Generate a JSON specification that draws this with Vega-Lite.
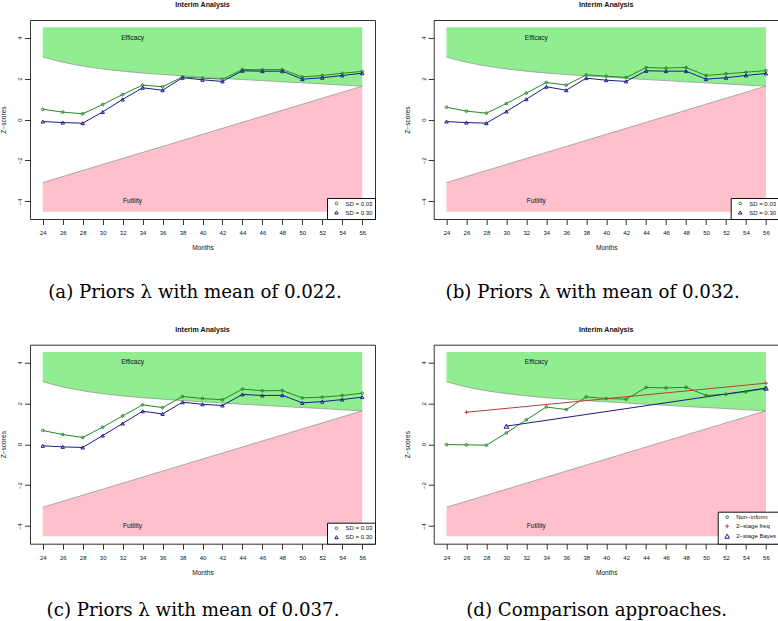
{
  "$schema": "https://vega.github.io/schema/vega-lite/v6.json",
  "padding": {"left": 0, "top": 0, "right": 0, "bottom": 0},
  "background": "white",
  "spacing": 23.7,
  "resolve": {"scale": {"color": "independent", "shape": "independent", "size": "independent"}, "legend": {"color": "independent", "shape": "independent", "size": "independent"}},
  "config": {
    "font": "Liberation Sans",
    "view": {"stroke": "#333", "strokeWidth": 1},
    "title": {"fontSize": 7.1, "fontWeight": "bold", "offset": 12, "color": "#111", "font": "Liberation Sans"},
    "axis": {"grid": false, "domain": false, "tickColor": "#333", "tickSize": 5.5, "labelFontSize": 6, "labelColor": "#111", "titleFontSize": 6.6, "titleFontWeight": "normal", "titleColor": "#111", "labelOverlap": false, "labelFlush": false, "labelFont": "Liberation Sans", "titleFont": "Liberation Sans"},
    "axisX": {"labelPadding": 5, "titlePadding": 9},
    "axisY": {"labelAngle": -90, "labelPadding": 2, "titlePadding": 10},
    "legend": {"labelFont": "Liberation Sans"}
  },
  "datasets": {
    "eff": [{"month":24,"z":3.05},{"month":26,"z":2.80},{"month":28,"z":2.61},{"month":30,"z":2.47},{"month":32,"z":2.36},{"month":34,"z":2.27},{"month":36,"z":2.20},{"month":38,"z":2.13},{"month":40,"z":2.07},{"month":42,"z":2.01},{"month":44,"z":1.95},{"month":46,"z":1.90},{"month":48,"z":1.84},{"month":50,"z":1.79},{"month":52,"z":1.74},{"month":54,"z":1.68},{"month":56,"z":1.63}],
    "fut": [{"month":24,"z":-3.08},{"month":56,"z":1.63}],
    "labels": [{"month":33,"z":4.0,"label":"Efficacy"},{"month":33,"z":-4.0,"label":"Futility"}],
    "a": [
      {"month":24,"z":0.50,"series":"SD = 0.03"},{"month":26,"z":0.36,"series":"SD = 0.03"},{"month":28,"z":0.28,"series":"SD = 0.03"},{"month":30,"z":0.73,"series":"SD = 0.03"},{"month":32,"z":1.22,"series":"SD = 0.03"},{"month":34,"z":1.68,"series":"SD = 0.03"},{"month":36,"z":1.60,"series":"SD = 0.03"},{"month":38,"z":2.08,"series":"SD = 0.03"},{"month":40,"z":2.02,"series":"SD = 0.03"},{"month":42,"z":1.97,"series":"SD = 0.03"},{"month":44,"z":2.44,"series":"SD = 0.03"},{"month":46,"z":2.43,"series":"SD = 0.03"},{"month":48,"z":2.44,"series":"SD = 0.03"},{"month":50,"z":2.08,"series":"SD = 0.03"},{"month":52,"z":2.15,"series":"SD = 0.03"},{"month":54,"z":2.26,"series":"SD = 0.03"},{"month":56,"z":2.35,"series":"SD = 0.03"},
      {"month":24,"z":-0.10,"series":"SD = 0.30"},{"month":26,"z":-0.15,"series":"SD = 0.30"},{"month":28,"z":-0.18,"series":"SD = 0.30"},{"month":30,"z":0.37,"series":"SD = 0.30"},{"month":32,"z":0.98,"series":"SD = 0.30"},{"month":34,"z":1.55,"series":"SD = 0.30"},{"month":36,"z":1.43,"series":"SD = 0.30"},{"month":38,"z":2.04,"series":"SD = 0.30"},{"month":40,"z":1.94,"series":"SD = 0.30"},{"month":42,"z":1.86,"series":"SD = 0.30"},{"month":44,"z":2.38,"series":"SD = 0.30"},{"month":46,"z":2.36,"series":"SD = 0.30"},{"month":48,"z":2.36,"series":"SD = 0.30"},{"month":50,"z":1.97,"series":"SD = 0.30"},{"month":52,"z":2.04,"series":"SD = 0.30"},{"month":54,"z":2.15,"series":"SD = 0.30"},{"month":56,"z":2.26,"series":"SD = 0.30"}
    ],
    "b": [
      {"month":24,"z":0.60,"series":"SD = 0.03"},{"month":26,"z":0.41,"series":"SD = 0.03"},{"month":28,"z":0.31,"series":"SD = 0.03"},{"month":30,"z":0.78,"series":"SD = 0.03"},{"month":32,"z":1.29,"series":"SD = 0.03"},{"month":34,"z":1.81,"series":"SD = 0.03"},{"month":36,"z":1.68,"series":"SD = 0.03"},{"month":38,"z":2.18,"series":"SD = 0.03"},{"month":40,"z":2.12,"series":"SD = 0.03"},{"month":42,"z":2.05,"series":"SD = 0.03"},{"month":44,"z":2.54,"series":"SD = 0.03"},{"month":46,"z":2.51,"series":"SD = 0.03"},{"month":48,"z":2.54,"series":"SD = 0.03"},{"month":50,"z":2.15,"series":"SD = 0.03"},{"month":52,"z":2.23,"series":"SD = 0.03"},{"month":54,"z":2.31,"series":"SD = 0.03"},{"month":56,"z":2.39,"series":"SD = 0.03"},
      {"month":24,"z":-0.10,"series":"SD = 0.30"},{"month":26,"z":-0.15,"series":"SD = 0.30"},{"month":28,"z":-0.18,"series":"SD = 0.30"},{"month":30,"z":0.39,"series":"SD = 0.30"},{"month":32,"z":0.99,"series":"SD = 0.30"},{"month":34,"z":1.60,"series":"SD = 0.30"},{"month":36,"z":1.43,"series":"SD = 0.30"},{"month":38,"z":2.02,"series":"SD = 0.30"},{"month":40,"z":1.92,"series":"SD = 0.30"},{"month":42,"z":1.86,"series":"SD = 0.30"},{"month":44,"z":2.38,"series":"SD = 0.30"},{"month":46,"z":2.36,"series":"SD = 0.30"},{"month":48,"z":2.36,"series":"SD = 0.30"},{"month":50,"z":1.97,"series":"SD = 0.30"},{"month":52,"z":2.04,"series":"SD = 0.30"},{"month":54,"z":2.15,"series":"SD = 0.30"},{"month":56,"z":2.25,"series":"SD = 0.30"}
    ],
    "c": [
      {"month":24,"z":0.67,"series":"SD = 0.03"},{"month":26,"z":0.47,"series":"SD = 0.03"},{"month":28,"z":0.33,"series":"SD = 0.03"},{"month":30,"z":0.83,"series":"SD = 0.03"},{"month":32,"z":1.38,"series":"SD = 0.03"},{"month":34,"z":1.92,"series":"SD = 0.03"},{"month":36,"z":1.79,"series":"SD = 0.03"},{"month":38,"z":2.33,"series":"SD = 0.03"},{"month":40,"z":2.23,"series":"SD = 0.03"},{"month":42,"z":2.17,"series":"SD = 0.03"},{"month":44,"z":2.69,"series":"SD = 0.03"},{"month":46,"z":2.61,"series":"SD = 0.03"},{"month":48,"z":2.62,"series":"SD = 0.03"},{"month":50,"z":2.26,"series":"SD = 0.03"},{"month":52,"z":2.30,"series":"SD = 0.03"},{"month":54,"z":2.38,"series":"SD = 0.03"},{"month":56,"z":2.49,"series":"SD = 0.03"},
      {"month":24,"z":-0.08,"series":"SD = 0.30"},{"month":26,"z":-0.13,"series":"SD = 0.30"},{"month":28,"z":-0.16,"series":"SD = 0.30"},{"month":30,"z":0.42,"series":"SD = 0.30"},{"month":32,"z":1.01,"series":"SD = 0.30"},{"month":34,"z":1.61,"series":"SD = 0.30"},{"month":36,"z":1.48,"series":"SD = 0.30"},{"month":38,"z":2.05,"series":"SD = 0.30"},{"month":40,"z":1.95,"series":"SD = 0.30"},{"month":42,"z":1.89,"series":"SD = 0.30"},{"month":44,"z":2.43,"series":"SD = 0.30"},{"month":46,"z":2.38,"series":"SD = 0.30"},{"month":48,"z":2.39,"series":"SD = 0.30"},{"month":50,"z":2.02,"series":"SD = 0.30"},{"month":52,"z":2.08,"series":"SD = 0.30"},{"month":54,"z":2.18,"series":"SD = 0.30"},{"month":56,"z":2.30,"series":"SD = 0.30"}
    ],
    "d": [
      {"month":24,"z":-0.02,"series":"Non−inform"},{"month":26,"z":-0.03,"series":"Non−inform"},{"month":28,"z":-0.05,"series":"Non−inform"},{"month":30,"z":0.55,"series":"Non−inform"},{"month":32,"z":1.19,"series":"Non−inform"},{"month":34,"z":1.82,"series":"Non−inform"},{"month":36,"z":1.69,"series":"Non−inform"},{"month":38,"z":2.31,"series":"Non−inform"},{"month":40,"z":2.23,"series":"Non−inform"},{"month":42,"z":2.20,"series":"Non−inform"},{"month":44,"z":2.77,"series":"Non−inform"},{"month":46,"z":2.75,"series":"Non−inform"},{"month":48,"z":2.78,"series":"Non−inform"},{"month":50,"z":2.38,"series":"Non−inform"},{"month":52,"z":2.44,"series":"Non−inform"},{"month":54,"z":2.56,"series":"Non−inform"},{"month":56,"z":2.72,"series":"Non−inform"},
      {"month":26,"z":1.56,"series":"2−stage freq"},{"month":56,"z":2.98,"series":"2−stage freq"},
      {"month":30,"z":0.88,"series":"2−stage Bayes"},{"month":56,"z":2.74,"series":"2−stage Bayes"}
    ]
  },
  "vconcat": [
    {
      "spacing": 27.7,
      "resolve": {"scale": {"color": "independent", "shape": "independent", "size": "independent"}, "legend": {"color": "independent", "shape": "independent", "size": "independent"}},
      "hconcat": [
        {
          "title": {"text": "(a) Priors λ with mean of 0.022.", "orient": "bottom", "anchor": "middle", "font": "DejaVu Serif", "fontSize": 18.2, "fontWeight": "normal", "color": "black", "offset": 32, "dx": 7},
          "resolve": {"scale": {"color": "independent", "shape": "independent", "size": "independent"}, "legend": {"color": "independent", "shape": "independent", "size": "independent"}},
          "vconcat": [
            {
              "title": "Interim Analysis",
              "width": 345, "height": 199,
              "view": {"stroke": "#333", "strokeWidth": 1},
              "encoding": {
                "x": {"field": "month", "type": "quantitative", "scale": {"domain": [22.72, 57.28], "nice": false, "zero": false}, "axis": {"values": [24,26,28,30,32,34,36,38,40,42,44,46,48,50,52,54,56], "title": "Months"}},
                "y": {"field": "z", "type": "quantitative", "scale": {"domain": [-4.86, 4.86], "nice": false, "zero": false}, "axis": {"values": [-4,-2,0,2,4], "title": "Z−scores"}}
              },
              "layer": [
                {"data": {"name": "eff"}, "mark": {"type": "area", "color": "#90EE90", "interpolate": "monotone"}, "encoding": {"y2": {"datum": 4.5}}},
                {"data": {"name": "fut"}, "mark": {"type": "area", "color": "#FFC0CB"}, "encoding": {"y2": {"datum": -4.5}}},
                {"data": {"name": "eff"}, "mark": {"type": "line", "color": "#8c8c8c", "strokeWidth": 0.7, "interpolate": "monotone"}, "encoding": {}},
                {"data": {"name": "fut"}, "mark": {"type": "line", "color": "#8c8c8c", "strokeWidth": 0.7}, "encoding": {}},
                {"data": {"name": "labels"}, "mark": {"type": "text", "fontSize": 6.6, "color": "#111"}, "encoding": {"text": {"field": "label"}}},
                {"data": {"name": "a"}, "mark": {"type": "line", "strokeWidth": 1}, "encoding": {"color": {"field": "series", "type": "nominal", "scale": {"domain": ["SD = 0.03", "SD = 0.30"], "range": ["#228B22", "#1C1C8A"]}, "legend": {"title": null, "orient": "bottom-right", "offset": 0, "padding": 2.5, "strokeColor": "#111", "fillColor": "white", "labelFontSize": 6, "labelColor": "#111", "symbolSize": 20, "symbolStrokeWidth": 1, "rowPadding": 1, "symbolOffset": 4, "labelOffset": 6, "cornerRadius": 0}}}},
                {"data": {"name": "a"}, "mark": {"type": "point", "filled": false, "strokeWidth": 1, "opacity": 1},
                 "encoding": {
                   "color": {"field": "series", "type": "nominal", "scale": {"domain": ["SD = 0.03", "SD = 0.30"], "range": ["#228B22", "#1C1C8A"]}, "legend": {"title": null, "orient": "bottom-right", "offset": 0, "padding": 2.5, "strokeColor": "#111", "fillColor": "white", "labelFontSize": 6, "labelColor": "#111", "symbolSize": 20, "symbolStrokeWidth": 1, "rowPadding": 1, "symbolOffset": 4, "labelOffset": 6, "cornerRadius": 0}},
                   "shape": {"field": "series", "type": "nominal", "scale": {"domain": ["SD = 0.03", "SD = 0.30"], "range": ["circle", "triangle-up"]}, "legend": {"title": null, "orient": "bottom-right", "offset": 0, "padding": 2.5, "strokeColor": "#111", "fillColor": "white", "labelFontSize": 6, "labelColor": "#111", "symbolSize": 20, "symbolStrokeWidth": 1, "rowPadding": 1, "symbolOffset": 4, "labelOffset": 6, "cornerRadius": 0}},
                   "size": {"field": "series", "type": "nominal", "scale": {"domain": ["SD = 0.03", "SD = 0.30"], "range": [7, 12]}, "legend": null}
                 }
                }
              ]
            }
          ]
        },
        {
          "title": {"text": "(b) Priors λ with mean of 0.032.", "orient": "bottom", "anchor": "middle", "font": "DejaVu Serif", "fontSize": 18.2, "fontWeight": "normal", "color": "black", "offset": 32, "dx": 1},
          "resolve": {"scale": {"color": "independent", "shape": "independent", "size": "independent"}, "legend": {"color": "independent", "shape": "independent", "size": "independent"}},
          "vconcat": [
            {
              "title": "Interim Analysis",
              "width": 345, "height": 199,
              "view": {"stroke": "#333", "strokeWidth": 1},
              "encoding": {
                "x": {"field": "month", "type": "quantitative", "scale": {"domain": [22.72, 57.28], "nice": false, "zero": false}, "axis": {"values": [24,26,28,30,32,34,36,38,40,42,44,46,48,50,52,54,56], "title": "Months"}},
                "y": {"field": "z", "type": "quantitative", "scale": {"domain": [-4.86, 4.86], "nice": false, "zero": false}, "axis": {"values": [-4,-2,0,2,4], "title": "Z−scores"}}
              },
              "layer": [
                {"data": {"name": "eff"}, "mark": {"type": "area", "color": "#90EE90", "interpolate": "monotone"}, "encoding": {"y2": {"datum": 4.5}}},
                {"data": {"name": "fut"}, "mark": {"type": "area", "color": "#FFC0CB"}, "encoding": {"y2": {"datum": -4.5}}},
                {"data": {"name": "eff"}, "mark": {"type": "line", "color": "#8c8c8c", "strokeWidth": 0.7, "interpolate": "monotone"}, "encoding": {}},
                {"data": {"name": "fut"}, "mark": {"type": "line", "color": "#8c8c8c", "strokeWidth": 0.7}, "encoding": {}},
                {"data": {"name": "labels"}, "mark": {"type": "text", "fontSize": 6.6, "color": "#111"}, "encoding": {"text": {"field": "label"}}},
                {"data": {"name": "b"}, "mark": {"type": "line", "strokeWidth": 1}, "encoding": {"color": {"field": "series", "type": "nominal", "scale": {"domain": ["SD = 0.03", "SD = 0.30"], "range": ["#228B22", "#1C1C8A"]}, "legend": {"title": null, "orient": "bottom-right", "offset": 0, "padding": 2.5, "strokeColor": "#111", "fillColor": "white", "labelFontSize": 6, "labelColor": "#111", "symbolSize": 20, "symbolStrokeWidth": 1, "rowPadding": 1, "symbolOffset": 4, "labelOffset": 6, "cornerRadius": 0}}}},
                {"data": {"name": "b"}, "mark": {"type": "point", "filled": false, "strokeWidth": 1, "opacity": 1},
                 "encoding": {
                   "color": {"field": "series", "type": "nominal", "scale": {"domain": ["SD = 0.03", "SD = 0.30"], "range": ["#228B22", "#1C1C8A"]}, "legend": {"title": null, "orient": "bottom-right", "offset": 0, "padding": 2.5, "strokeColor": "#111", "fillColor": "white", "labelFontSize": 6, "labelColor": "#111", "symbolSize": 20, "symbolStrokeWidth": 1, "rowPadding": 1, "symbolOffset": 4, "labelOffset": 6, "cornerRadius": 0}},
                   "shape": {"field": "series", "type": "nominal", "scale": {"domain": ["SD = 0.03", "SD = 0.30"], "range": ["circle", "triangle-up"]}, "legend": {"title": null, "orient": "bottom-right", "offset": 0, "padding": 2.5, "strokeColor": "#111", "fillColor": "white", "labelFontSize": 6, "labelColor": "#111", "symbolSize": 20, "symbolStrokeWidth": 1, "rowPadding": 1, "symbolOffset": 4, "labelOffset": 6, "cornerRadius": 0}},
                   "size": {"field": "series", "type": "nominal", "scale": {"domain": ["SD = 0.03", "SD = 0.30"], "range": [7, 12]}, "legend": null}
                 }
                }
              ]
            }
          ]
        }
      ]
    },
    {
      "spacing": 27.7,
      "resolve": {"scale": {"color": "independent", "shape": "independent", "size": "independent"}, "legend": {"color": "independent", "shape": "independent", "size": "independent"}},
      "hconcat": [
        {
          "title": {"text": "(c) Priors λ with mean of 0.037.", "orient": "bottom", "anchor": "middle", "font": "DejaVu Serif", "fontSize": 18.2, "fontWeight": "normal", "color": "black", "offset": 26, "dx": 5},
          "resolve": {"scale": {"color": "independent", "shape": "independent", "size": "independent"}, "legend": {"color": "independent", "shape": "independent", "size": "independent"}},
          "vconcat": [
            {
              "title": "Interim Analysis",
              "width": 345, "height": 199,
              "view": {"stroke": "#333", "strokeWidth": 1},
              "encoding": {
                "x": {"field": "month", "type": "quantitative", "scale": {"domain": [22.72, 57.28], "nice": false, "zero": false}, "axis": {"values": [24,26,28,30,32,34,36,38,40,42,44,46,48,50,52,54,56], "title": "Months"}},
                "y": {"field": "z", "type": "quantitative", "scale": {"domain": [-4.86, 4.86], "nice": false, "zero": false}, "axis": {"values": [-4,-2,0,2,4], "title": "Z−scores"}}
              },
              "layer": [
                {"data": {"name": "eff"}, "mark": {"type": "area", "color": "#90EE90", "interpolate": "monotone"}, "encoding": {"y2": {"datum": 4.5}}},
                {"data": {"name": "fut"}, "mark": {"type": "area", "color": "#FFC0CB"}, "encoding": {"y2": {"datum": -4.5}}},
                {"data": {"name": "eff"}, "mark": {"type": "line", "color": "#8c8c8c", "strokeWidth": 0.7, "interpolate": "monotone"}, "encoding": {}},
                {"data": {"name": "fut"}, "mark": {"type": "line", "color": "#8c8c8c", "strokeWidth": 0.7}, "encoding": {}},
                {"data": {"name": "labels"}, "mark": {"type": "text", "fontSize": 6.6, "color": "#111"}, "encoding": {"text": {"field": "label"}}},
                {"data": {"name": "c"}, "mark": {"type": "line", "strokeWidth": 1}, "encoding": {"color": {"field": "series", "type": "nominal", "scale": {"domain": ["SD = 0.03", "SD = 0.30"], "range": ["#228B22", "#1C1C8A"]}, "legend": {"title": null, "orient": "bottom-right", "offset": 0, "padding": 2.5, "strokeColor": "#111", "fillColor": "white", "labelFontSize": 6, "labelColor": "#111", "symbolSize": 20, "symbolStrokeWidth": 1, "rowPadding": 1, "symbolOffset": 4, "labelOffset": 6, "cornerRadius": 0}}}},
                {"data": {"name": "c"}, "mark": {"type": "point", "filled": false, "strokeWidth": 1, "opacity": 1},
                 "encoding": {
                   "color": {"field": "series", "type": "nominal", "scale": {"domain": ["SD = 0.03", "SD = 0.30"], "range": ["#228B22", "#1C1C8A"]}, "legend": {"title": null, "orient": "bottom-right", "offset": 0, "padding": 2.5, "strokeColor": "#111", "fillColor": "white", "labelFontSize": 6, "labelColor": "#111", "symbolSize": 20, "symbolStrokeWidth": 1, "rowPadding": 1, "symbolOffset": 4, "labelOffset": 6, "cornerRadius": 0}},
                   "shape": {"field": "series", "type": "nominal", "scale": {"domain": ["SD = 0.03", "SD = 0.30"], "range": ["circle", "triangle-up"]}, "legend": {"title": null, "orient": "bottom-right", "offset": 0, "padding": 2.5, "strokeColor": "#111", "fillColor": "white", "labelFontSize": 6, "labelColor": "#111", "symbolSize": 20, "symbolStrokeWidth": 1, "rowPadding": 1, "symbolOffset": 4, "labelOffset": 6, "cornerRadius": 0}},
                   "size": {"field": "series", "type": "nominal", "scale": {"domain": ["SD = 0.03", "SD = 0.30"], "range": [7, 12]}, "legend": null}
                 }
                }
              ]
            }
          ]
        },
        {
          "title": {"text": "(d) Comparison approaches.", "orient": "bottom", "anchor": "middle", "font": "DejaVu Serif", "fontSize": 18.2, "fontWeight": "normal", "color": "black", "offset": 26, "dx": 5},
          "resolve": {"scale": {"color": "independent", "shape": "independent", "size": "independent"}, "legend": {"color": "independent", "shape": "independent", "size": "independent"}},
          "vconcat": [
            {
              "title": "Interim Analysis",
              "width": 345, "height": 199,
              "view": {"stroke": "#333", "strokeWidth": 1},
              "encoding": {
                "x": {"field": "month", "type": "quantitative", "scale": {"domain": [22.72, 57.28], "nice": false, "zero": false}, "axis": {"values": [24,26,28,30,32,34,36,38,40,42,44,46,48,50,52,54,56], "title": "Months"}},
                "y": {"field": "z", "type": "quantitative", "scale": {"domain": [-4.86, 4.86], "nice": false, "zero": false}, "axis": {"values": [-4,-2,0,2,4], "title": "Z−scores"}}
              },
              "layer": [
                {"data": {"name": "eff"}, "mark": {"type": "area", "color": "#90EE90", "interpolate": "monotone"}, "encoding": {"y2": {"datum": 4.5}}},
                {"data": {"name": "fut"}, "mark": {"type": "area", "color": "#FFC0CB"}, "encoding": {"y2": {"datum": -4.5}}},
                {"data": {"name": "eff"}, "mark": {"type": "line", "color": "#8c8c8c", "strokeWidth": 0.7, "interpolate": "monotone"}, "encoding": {}},
                {"data": {"name": "fut"}, "mark": {"type": "line", "color": "#8c8c8c", "strokeWidth": 0.7}, "encoding": {}},
                {"data": {"name": "labels"}, "mark": {"type": "text", "fontSize": 6.6, "color": "#111"}, "encoding": {"text": {"field": "label"}}},
                {"data": {"name": "d"}, "mark": {"type": "line", "strokeWidth": 1}, "encoding": {"color": {"field": "series", "type": "nominal", "scale": {"domain": ["Non−inform", "2−stage freq", "2−stage Bayes"], "range": ["#228B22", "#B5403A", "#1C1C8A"]}, "legend": {"title": null, "orient": "bottom-right", "offset": 0, "padding": 2.5, "strokeColor": "#111", "fillColor": "white", "labelFontSize": 6, "labelColor": "#111", "symbolSize": 20, "symbolStrokeWidth": 1, "rowPadding": 1, "symbolOffset": 4, "labelOffset": 6, "cornerRadius": 0}}}},
                {"data": {"name": "d"}, "mark": {"type": "point", "filled": false, "strokeWidth": 1, "opacity": 1},
                 "encoding": {
                   "color": {"field": "series", "type": "nominal", "scale": {"domain": ["Non−inform", "2−stage freq", "2−stage Bayes"], "range": ["#228B22", "#B5403A", "#1C1C8A"]}, "legend": {"title": null, "orient": "bottom-right", "offset": 0, "padding": 2.5, "strokeColor": "#111", "fillColor": "white", "labelFontSize": 6, "labelColor": "#111", "symbolSize": 20, "symbolStrokeWidth": 1, "rowPadding": 1, "symbolOffset": 4, "labelOffset": 6, "cornerRadius": 0}},
                   "shape": {"field": "series", "type": "nominal", "scale": {"domain": ["Non−inform", "2−stage freq", "2−stage Bayes"], "range": ["circle", "M-1,0H1M0,-1V1", "triangle-up"]}, "legend": {"title": null, "orient": "bottom-right", "offset": 0, "padding": 2.5, "strokeColor": "#111", "fillColor": "white", "labelFontSize": 6, "labelColor": "#111", "symbolSize": 20, "symbolStrokeWidth": 1, "rowPadding": 1, "symbolOffset": 4, "labelOffset": 6, "cornerRadius": 0}},
                   "size": {"field": "series", "type": "nominal", "scale": {"domain": ["Non−inform", "2−stage freq", "2−stage Bayes"], "range": [7, 22, 12]}, "legend": null}
                 }
                }
              ]
            }
          ]
        }
      ]
    }
  ]
}
